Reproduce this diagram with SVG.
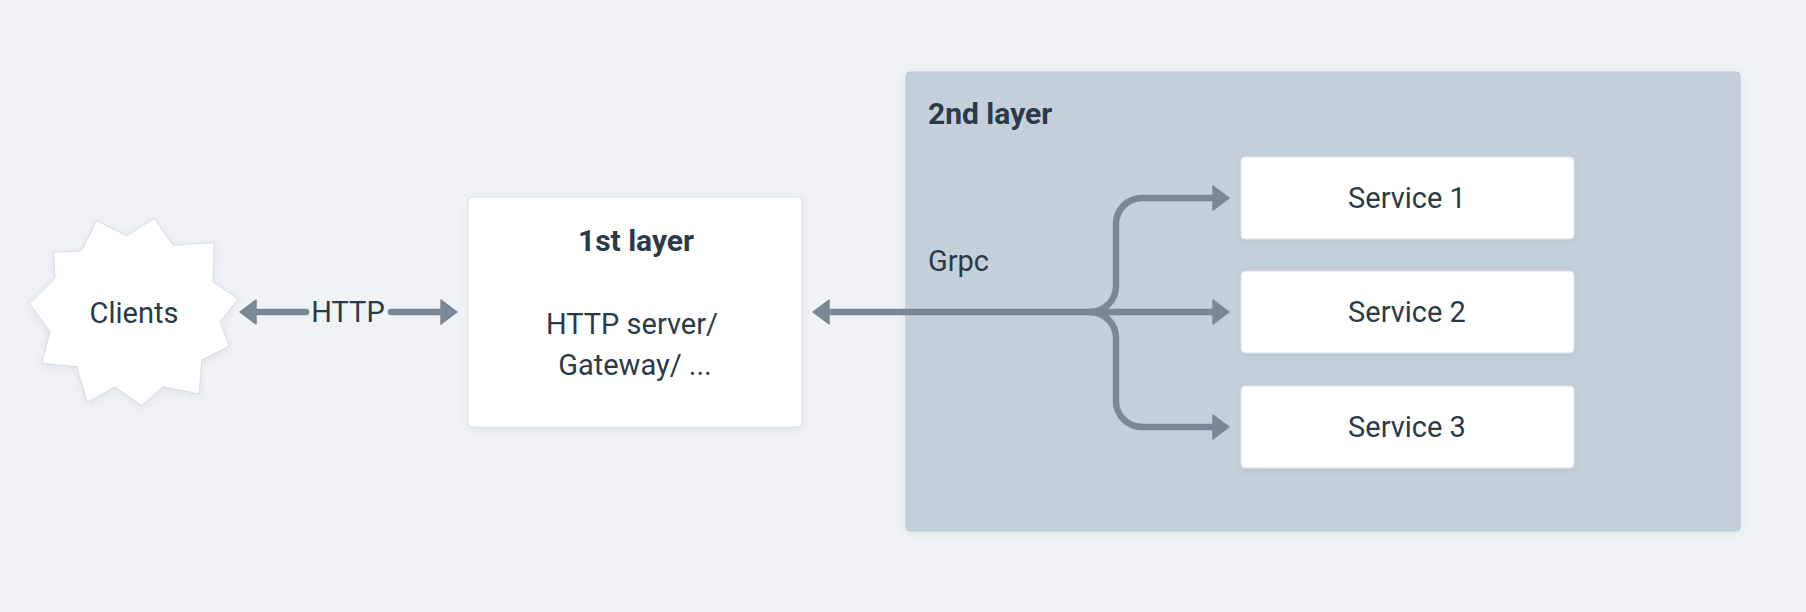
<svg xmlns="http://www.w3.org/2000/svg" width="1806" height="612" viewBox="0 0 1806 612">
<style>
.t{font-family:Roboto,"Noto Sans","Liberation Sans",sans-serif;font-size:29px;fill:#2a3a48}
.b{font-weight:bold;font-size:30px}
.box{fill:#ffffff;stroke:#dde2e7;stroke-width:1}
.conn{fill:none;stroke:#7a8896;stroke-width:6.5;stroke-linecap:round;stroke-linejoin:round}
</style>
<defs>
<filter id="sh" x="-10%" y="-10%" width="120%" height="130%">
<feDropShadow dx="0" dy="2" stdDeviation="3" flood-color="#5a6a7a" flood-opacity="0.12"/>
</filter>
<marker id="ah" markerUnits="userSpaceOnUse" viewBox="-1 -1 20 28" markerWidth="20" markerHeight="28" refX="0" refY="13" orient="auto-start-reverse">
<path d="M0,1 L16,13 L0,25 Z" fill="#7a8896" stroke="#7a8896" stroke-width="1.5" stroke-linejoin="round"/>
</marker>
</defs>
<rect width="1806" height="612" fill="#eff3f6"/>
<g id="layer2">
<rect x="906" y="72" width="834" height="459" rx="4" fill="#c3d0da" stroke="#b9c6d0" stroke-width="1" filter="url(#sh)"/>
<text class="t b" x="928" y="124">2nd layer</text>
<text class="t" x="928" y="271">Grpc</text>
</g>
<g id="clients">
<polygon points="154.3,218.3 126.7,235.7 96.7,220.7 81.7,250.7 53.3,252.3 55,278 29.3,303.3 50,331.7 41.7,363.3 76.7,366.7 87.3,402.3 115,386.7 141.7,405.7 163,386.7 199.3,394 201.7,360 229.3,346 220,321.7 238.3,299 213,281.7 214.3,242.7 173,245" fill="#ffffff" stroke="#d6dbe0" stroke-width="1" stroke-linejoin="miter" filter="url(#sh)"/>
<text class="t" x="134" y="323" text-anchor="middle">Clients</text>
</g>
<g id="layer1">
<rect class="box" x="468" y="197" width="334" height="230" rx="4" filter="url(#sh)"/>
<text class="t b" x="636" y="251" text-anchor="middle">1st layer</text>
<text class="t" x="632" y="334" text-anchor="middle">HTTP server/</text>
<text class="t" x="635" y="375" text-anchor="middle">Gateway/ ...</text>
</g>
<g id="service1">
<rect class="box" x="1241" y="157" width="333" height="82" rx="4" filter="url(#sh)"/>
<text class="t" x="1407" y="208" text-anchor="middle">Service 1</text>
</g>
<g id="service2">
<rect class="box" x="1241" y="271" width="333" height="82" rx="4" filter="url(#sh)"/>
<text class="t" x="1407" y="322" text-anchor="middle">Service 2</text>
</g>
<g id="service3">
<rect class="box" x="1241" y="386" width="333" height="82" rx="4" filter="url(#sh)"/>
<text class="t" x="1407" y="437" text-anchor="middle">Service 3</text>
</g>
<g id="connectors">
<path class="conn" d="M256,312 H306" marker-start="url(#ah)"/>
<path class="conn" d="M391,312 H441" marker-end="url(#ah)"/>
<text class="t" x="348" y="322" text-anchor="middle">HTTP</text>
<path class="conn" d="M829,312 H1213" marker-start="url(#ah)" marker-end="url(#ah)"/>
<path class="conn" d="M1090,312 A26,26 0 0 0 1116,286 V224 A26,26 0 0 1 1142,198 H1213" marker-end="url(#ah)"/>
<path class="conn" d="M1090,312 A26,26 0 0 1 1116,338 V401 A26,26 0 0 0 1142,427 H1213" marker-end="url(#ah)"/>
</g>
</svg>
